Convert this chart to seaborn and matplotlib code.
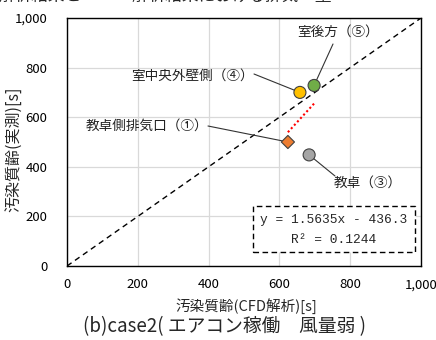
import matplotlib
matplotlib.use("Agg")
import matplotlib.pyplot as plt
from matplotlib.ticker import FuncFormatter
from matplotlib.patches import Rectangle
import numpy as np
import pandas as pd
import seaborn as sns

# Measured vs. CFD contaminant age at each sampling point
points = ["教卓側排気口（①）", "教卓（③）", "室中央外壁側（④）", "室後方（⑤）"]
cfd_age = [624, 684, 658, 698]
measured_age = [500, 448, 700, 728]
point_colors = ["#ed7d31", "#a5a5a5", "#ffc000", "#70ad47"]
point_markers = ["D", "o", "o", "o"]
point_sizes = [45, 75, 75, 75]

# Linear fit shown in the box
slope = 1.5635
intercept = -436.3
r_squared = 0.1244

ticks = [0, 200, 400, 600, 800, 1000]

sns.set_theme(style="white")
plt.rcParams["font.family"] = ["Noto Sans CJK JP", "DejaVu Sans"]

df = pd.DataFrame({"point": points, "cfd": cfd_age, "measured": measured_age})

W, H = 436, 340
L, R, T, B = 67, 421, 18, 266

fig = plt.figure(figsize=(W / 100, H / 100), dpi=100)
ax = fig.add_axes([L / W, 1 - B / H, (R - L) / W, (B - T) / H])

ax.set_xlim(0, 1000)
ax.set_ylim(0, 1000)
ax.set_xticks(ticks)
ax.set_yticks(ticks)
ax.grid(True, color="#d9d9d9", linewidth=0.9)
ax.set_axisbelow(True)
for s in ax.spines.values():
    s.set_color("black")
    s.set_linewidth(1.0)

fmt = FuncFormatter(lambda v, p: f"{int(v):,}")
ax.xaxis.set_major_formatter(fmt)
ax.yaxis.set_major_formatter(fmt)
ax.tick_params(axis="both", length=0, labelsize=9.5, colors="black")
ax.tick_params(axis="x", pad=9)
ax.tick_params(axis="y", pad=14)

# 1:1 reference line
sns.lineplot(x=[0, 1000], y=[0, 1000], ax=ax, color="black",
             linestyle=(0, (4, 3)), linewidth=1.0)

# Regression line over the range of the data
xr = np.array([min(cfd_age), max(cfd_age)])
sns.lineplot(x=xr, y=slope * xr + intercept, ax=ax, color="#ff0000",
             linestyle=(0, (1, 1.2)), linewidth=1.5)

sns.scatterplot(data=df, x="cfd", y="measured", hue="point", style="point",
                size="point", sizes=dict(zip(points, point_sizes)),
                palette=point_colors, markers=point_markers,
                edgecolor="#404040", linewidth=0.8, ax=ax, legend=False,
                zorder=5)
ax.set_xlabel("")
ax.set_ylabel("")


def px2data(px, py):
    return (px - L) / (R - L) * 1000, (B - py) / (B - T) * 1000


# Point labels with leader lines (label centre, leader start) in pixels
label_pos = {
    "教卓側排気口（①）": (147, 126, 208, 126),
    "教卓（③）": (368, 183, 335, 176),
    "室中央外壁側（④）": (192, 76, 254, 74),
    "室後方（⑤）": (338, 32, 333, 44),
}
for name, x, y in zip(points, cfd_age, measured_age):
    tx, ty, lx, ly = label_pos[name]
    dtx, dty = px2data(tx, ty)
    dlx, dly = px2data(lx, ly)
    ax.text(dtx, dty, name, fontsize=9.8, ha="center", va="center",
            color="#222222")
    ax.plot([dlx, x], [dly, y], color="#333333", linewidth=0.8, zorder=4)

# Fit equation box
bx0, by0 = px2data(253, 252)
bx1, by1 = px2data(415, 206)
box = Rectangle((bx0, by0), bx1 - bx0, by1 - by0, fill=True,
                facecolor="white", edgecolor="black",
                linestyle=(0, (4, 2.5)), linewidth=1.0, zorder=6)
ax.add_patch(box)
cx = (bx0 + bx1) / 2
_, ey1 = px2data(0, 220)
_, ey2 = px2data(0, 240)
ax.text(cx, ey1, f"y = {slope:.4f}x - {abs(intercept):.1f}",
        ha="center", va="center", fontsize=9.3, family="Liberation Mono",
        zorder=7)
ax.text(cx, ey2, f"R² = {r_squared:.4f}", ha="center", va="center",
        fontsize=9.3, family="Liberation Mono", zorder=7)

# Axis titles and caption
fig.text(14 / W, 1 - 149 / H, "汚染質齢(実測)[s]", rotation=90,
         ha="center", va="center", fontsize=11.5)
fig.text(246 / W, 1 - 306 / H, "汚染質齢(CFD解析)[s]",
         ha="center", va="center", fontsize=10.5)
fig.text(224 / W, 1 - 327 / H, "(b)case2( エアコン稼働　風量弱 )",
         ha="center", va="center", fontsize=13.5)

# Heading from the figure above, cut off at the top edge
fig.text(-2 / W, 1 - 1 / H, "解析結果と", ha="left", va="baseline",
         fontsize=12)
fig.text(132 / W, 1 - 1 / H, "解析結果における排気　量", ha="left",
         va="baseline", fontsize=12)

fig.savefig("out.png", dpi=100)
